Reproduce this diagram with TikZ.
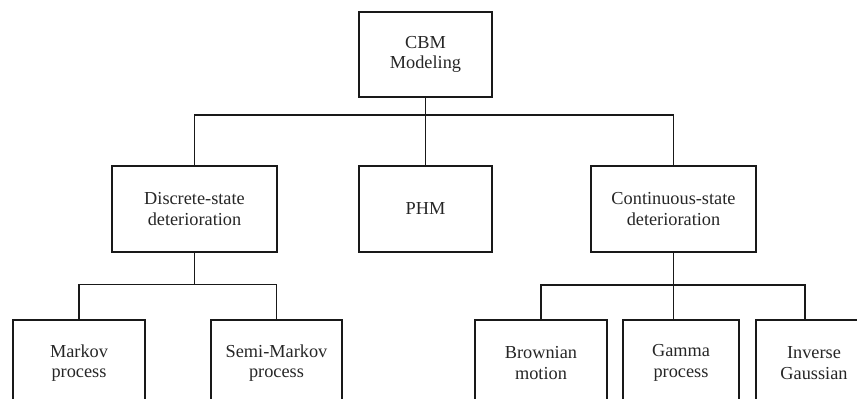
\documentclass[tikz,border=0pt]{standalone}
\usepackage{fontspec}
\setmainfont{Liberation Serif}
\begin{document}
\begin{tikzpicture}[x=1pt,y=1pt,
  box/.style={draw=black!90, line width=1.8pt, align=center, inner sep=0pt,
    font=\fontsize{18.3}{20.5}\selectfont, text=black!85},
  link/.style={draw=black!90, line width=1.8pt}]
\useasboundingbox (0,0) rectangle (857,-399);
\clip (0,0) rectangle (857,-399);
\node[box, minimum width=133pt, minimum height=85pt] (cbm) at (425.5,-54.5) {CBM\\Modeling};
\node[box, minimum width=165pt, minimum height=86pt] (disc) at (194.5,-209) {Discrete-state\\deterioration};
\node[box, minimum width=133pt, minimum height=86pt] (phm) at (425.5,-209) {PHM};
\node[box, minimum width=165pt, minimum height=86pt] (cont) at (673.5,-209) {Continuous-state\\deterioration};
\node[box, minimum width=132pt, minimum height=86pt] (markov) at (79,-363) {Markov\\process};
\node[box, minimum width=131pt, minimum height=86pt] (semi) at (276.5,-363) {Semi-Markov\\process};
\node[box, minimum width=132pt, minimum height=86pt] (brown) at (541,-363) {Brownian\\motion};
\node[box, minimum width=116pt, minimum height=86pt] (gamma) at (681,-363) {Gamma\\process};
\node[box, minimum width=116pt, minimum height=86pt] (inv) at (814,-363) {Inverse\\Gaussian};
\coordinate (j1) at (425.5,-115);
\coordinate (j2) at (194.5,-284.5);
\coordinate (j3) at (673.5,-285);
\draw[link] (cbm.south) -- (j1);
\draw[link] (disc.north) |- (j1) -| (cont.north);
\draw[link] (j1) -- (phm.north);
\draw[link] (disc.south) -- (j2);
\draw[link] (markov.north) |- (j2) -| (semi.north);
\draw[link] (cont.south) -- (j3);
\draw[link] (brown.north) |- (j3);
\draw[link] (j3) -| ([xshift=-9pt]inv.north);
\draw[link] (j3) -- (j3 |- gamma.north);
\end{tikzpicture}
\end{document}
